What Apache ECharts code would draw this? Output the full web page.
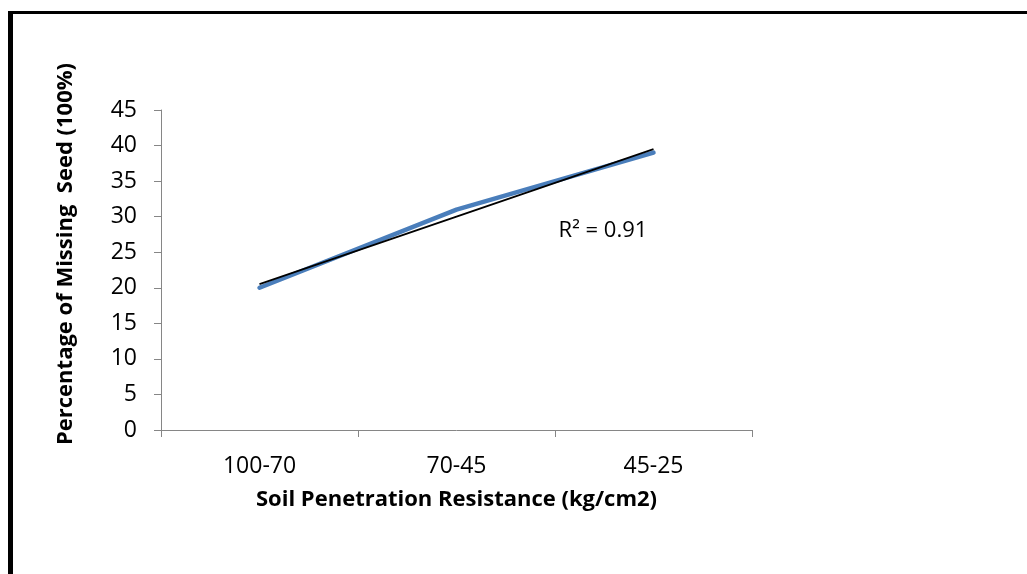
<!DOCTYPE html>
<html>
<head>
<meta charset="utf-8">
<script src="https://cdn.jsdelivr.net/npm/echarts@6/dist/echarts.min.js"></script>
<style>
html,body{margin:0;padding:0;background:#fff;}
#chart{width:1027px;height:574px;}
</style>
</head>
<body>
<div id="chart"></div>
<script>
const categories = ['100-70', '70-45', '45-25'];
const missingSeed = [20, 31, 39];
const trendLine = [20.5, 30, 39.5];
const yTicks = [0, 5, 10, 15, 20, 25, 30, 35, 40, 45];
const xTitle = 'Soil Penetration Resistance (kg/cm2)';
const yTitle = 'Percentage of Missing  Seed (100%)';
const r2Label = 'R² = 0.91';

const FONT = '"Open Sans", "Noto Sans", sans-serif';
const chart = echarts.init(document.getElementById('chart'));
chart.setOption({
  animation: false,
  backgroundColor: '#fff',
  grid: { left: 161, top: 110, width: 591, height: 320, containLabel: false },
  xAxis: {
    type: 'category',
    data: categories,
    boundaryGap: true,
    axisLine: { lineStyle: { color: '#868686', width: 1 } },
    axisTick: { show: true, length: 7, alignWithLabel: false, lineStyle: { color: '#868686' } },
    axisLabel: { color: '#000', fontFamily: FONT, fontSize: 23, margin: 25 },
    name: xTitle,
    nameLocation: 'middle',
    nameGap: 59,
    nameTextStyle: { color: '#000', fontFamily: FONT, fontSize: 22, fontWeight: 'bold' }
  },
  yAxis: {
    type: 'value',
    min: 0, max: 45, interval: 5,
    axisLine: { show: true, lineStyle: { color: '#868686', width: 1 } },
    axisTick: { show: true, length: 7, lineStyle: { color: '#868686' } },
    splitLine: { show: false },
    axisLabel: {
      color: '#000', fontFamily: FONT, fontSize: 23, margin: 24,
      formatter: v => yTicks.includes(v) ? String(v) : ''
    }
  },
  series: [
    {
      type: 'line',
      data: missingSeed,
      symbol: 'none',
      lineStyle: { color: '#4A7EBB', width: 4.5, cap: 'round' },
      z: 2
    },
    {
      type: 'line',
      data: trendLine,
      symbol: 'none',
      lineStyle: { color: '#000', width: 1.8 },
      z: 3
    }
  ],
  graphic: [
    {
      type: 'line',
      shape: { x1: 10.5, y1: 11, x2: 10.5, y2: 580 },
      style: { stroke: '#000', lineWidth: 5 },
      silent: true
    },
    {
      type: 'line',
      shape: { x1: 8, y1: 12.5, x2: 1030, y2: 12.5 },
      style: { stroke: '#000', lineWidth: 3 },
      silent: true
    },
    {
      type: 'text',
      x: 66, y: 254,
      rotation: Math.PI / 2,
      style: {
        text: yTitle, fill: '#000', font: 'bold 22px ' + FONT,
        textAlign: 'center', textVerticalAlign: 'middle'
      }
    },
    {
      type: 'text',
      x: 603, y: 231,
      style: {
        text: r2Label, fill: '#000', font: '22px ' + FONT,
        textAlign: 'center', textVerticalAlign: 'middle'
      }
    }
  ]
});
</script>
</body>
</html>
